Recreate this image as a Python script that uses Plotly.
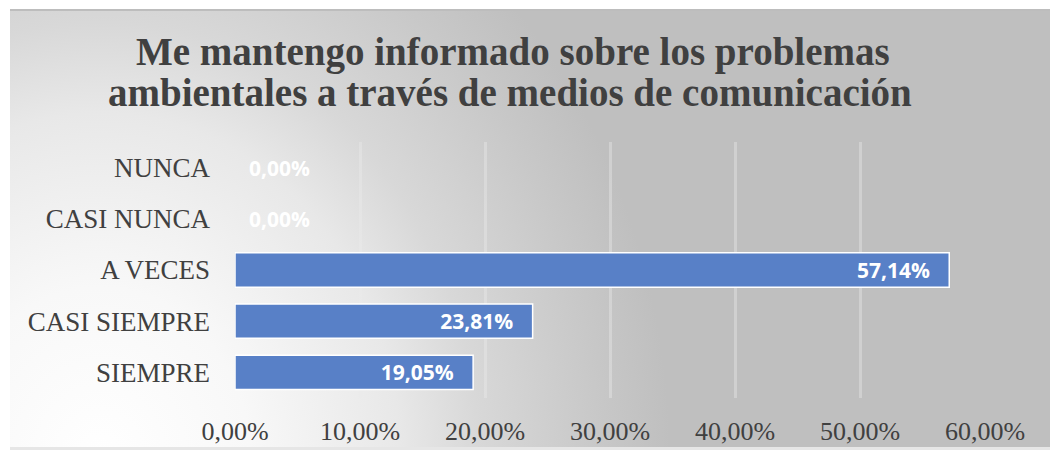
import base64
import plotly.graph_objects as go

# ---- data ----
categories = ["NUNCA", "CASI NUNCA", "A VECES", "CASI SIEMPRE", "SIEMPRE"]
percentages = [0.00, 0.00, 57.14, 23.81, 19.05]
x_ticks = [0, 10, 20, 30, 40, 50, 60]
x_tick_labels = ["0,00%", "10,00%", "20,00%", "30,00%", "40,00%", "50,00%", "60,00%"]
title_lines = ["Me mantengo informado sobre los problemas",
               "ambientales a través de medios de comunicación"]

# ---- geometry (page pixels; the page body has an 8px margin) ----
OFF = 8
W, H = 1058 - OFF, 461 - OFF
L, R, T, B = 235 - OFF, 985 - OFF, 142 - OFF, 398 - OFF
pw, ph = R - L, B - T

def px(x):
    return (x - OFF - L) / pw

def py(y):
    return (B - (y - OFF)) / ph

# background frame with gradient, as an SVG image
fx0, fy0, fx1, fy1 = 10, 9, 1053, 450
fw, fh = fx1 - fx0, fy1 - fy0
cx, cy = 90, 452
svg = f'''<svg xmlns="http://www.w3.org/2000/svg" width="{fw}" height="{fh}" viewBox="0 0 {fw} {fh}" preserveAspectRatio="none">
<defs>
<radialGradient id="g" gradientUnits="userSpaceOnUse" cx="{cx}" cy="{cy}" r="600" gradientTransform="translate({cx} {cy}) scale(1 1.16) translate(-{cx} -{cy})">
<stop offset="0" stop-color="#FFFFFF"/>
<stop offset="0.25" stop-color="#F8F8F8"/>
<stop offset="0.5" stop-color="#E8E8E8"/>
<stop offset="0.63" stop-color="#D8D8D8"/>
<stop offset="0.83" stop-color="#C8C8C8"/>
<stop offset="0.95" stop-color="#BFBFBF"/>
<stop offset="1" stop-color="#BFBFBF"/>
</radialGradient>
</defs>
<rect x="0" y="0" width="{fw}" height="{fh}" fill="url(#g)"/>
<rect x="0" y="0" width="{fw}" height="2" fill="#BDBDBD"/>
<rect x="0" y="{fh-3}" width="{fw}" height="3" fill="#E6E6E6"/>
</svg>'''
src = "data:image/svg+xml;base64," + base64.b64encode(svg.encode()).decode()

NB = "\u00a0"
text_pos = ["outside" if v == 0 else "inside" for v in percentages]
text_tpl = [NB * 2 + "%{x:.2f}%" if v == 0 else "%{x:.2f}%" + NB * 3 for v in percentages]
line_w = [0 if v == 0 else 1.5 for v in percentages]
lab_font = dict(family="Open Sans", size=21, color="#FFFFFF", weight="bold")

fig = go.Figure()
fig.add_trace(go.Bar(
    y=categories,
    x=percentages,
    orientation="h",
    marker=dict(color="#5880C7", line=dict(color="#FFFFFF", width=line_w)),
    texttemplate=text_tpl,
    textposition=text_pos,
    insidetextanchor="end",
    textfont=lab_font,
    outsidetextfont=lab_font,
    insidetextfont=lab_font,
    cliponaxis=False,
    hoverinfo="skip",
))

fig.update_layout(
    width=W, height=H,
    margin=dict(l=L, r=W - R, t=T, b=H - B, pad=0),
    paper_bgcolor="#FFFFFF",
    plot_bgcolor="rgba(0,0,0,0)",
    separators=",.",
    showlegend=False,
    bargap=0.33,
    images=[dict(
        source=src, xref="paper", yref="paper",
        x=px(fx0), y=py(fy0), sizex=fw / pw, sizey=fh / ph,
        xanchor="left", yanchor="top", sizing="stretch", layer="below",
    )],
    xaxis=dict(
        range=[0, 60],
        tickvals=x_ticks,
        ticktext=x_tick_labels,
        showgrid=True,
        gridcolor="rgba(235,235,235,0.4)",
        gridwidth=3,
        zeroline=False,
        showline=False,
        ticks="",
        ticklabelstandoff=15,
        tickfont=dict(family="Liberation Serif", size=26, color="#404040"),
    ),
    yaxis=dict(
        autorange="reversed",
        showgrid=False,
        zeroline=False,
        showline=False,
        ticks="",
        ticklabelstandoff=24,
        tickfont=dict(family="Liberation Serif", size=27, color="#404040"),
    ),
    annotations=[
        dict(text=title_lines[0], xref="paper", yref="paper",
             x=px(513), y=py(52), xanchor="center", yanchor="middle",
             showarrow=False,
             font=dict(family="Liberation Serif", size=39, color="#404040", weight="bold")),
        dict(text=title_lines[1], xref="paper", yref="paper",
             x=px(510), y=py(92), xanchor="center", yanchor="middle",
             showarrow=False,
             font=dict(family="Liberation Serif", size=39, color="#404040", weight="bold")),
    ],
)

fig.write_html("out.html")
